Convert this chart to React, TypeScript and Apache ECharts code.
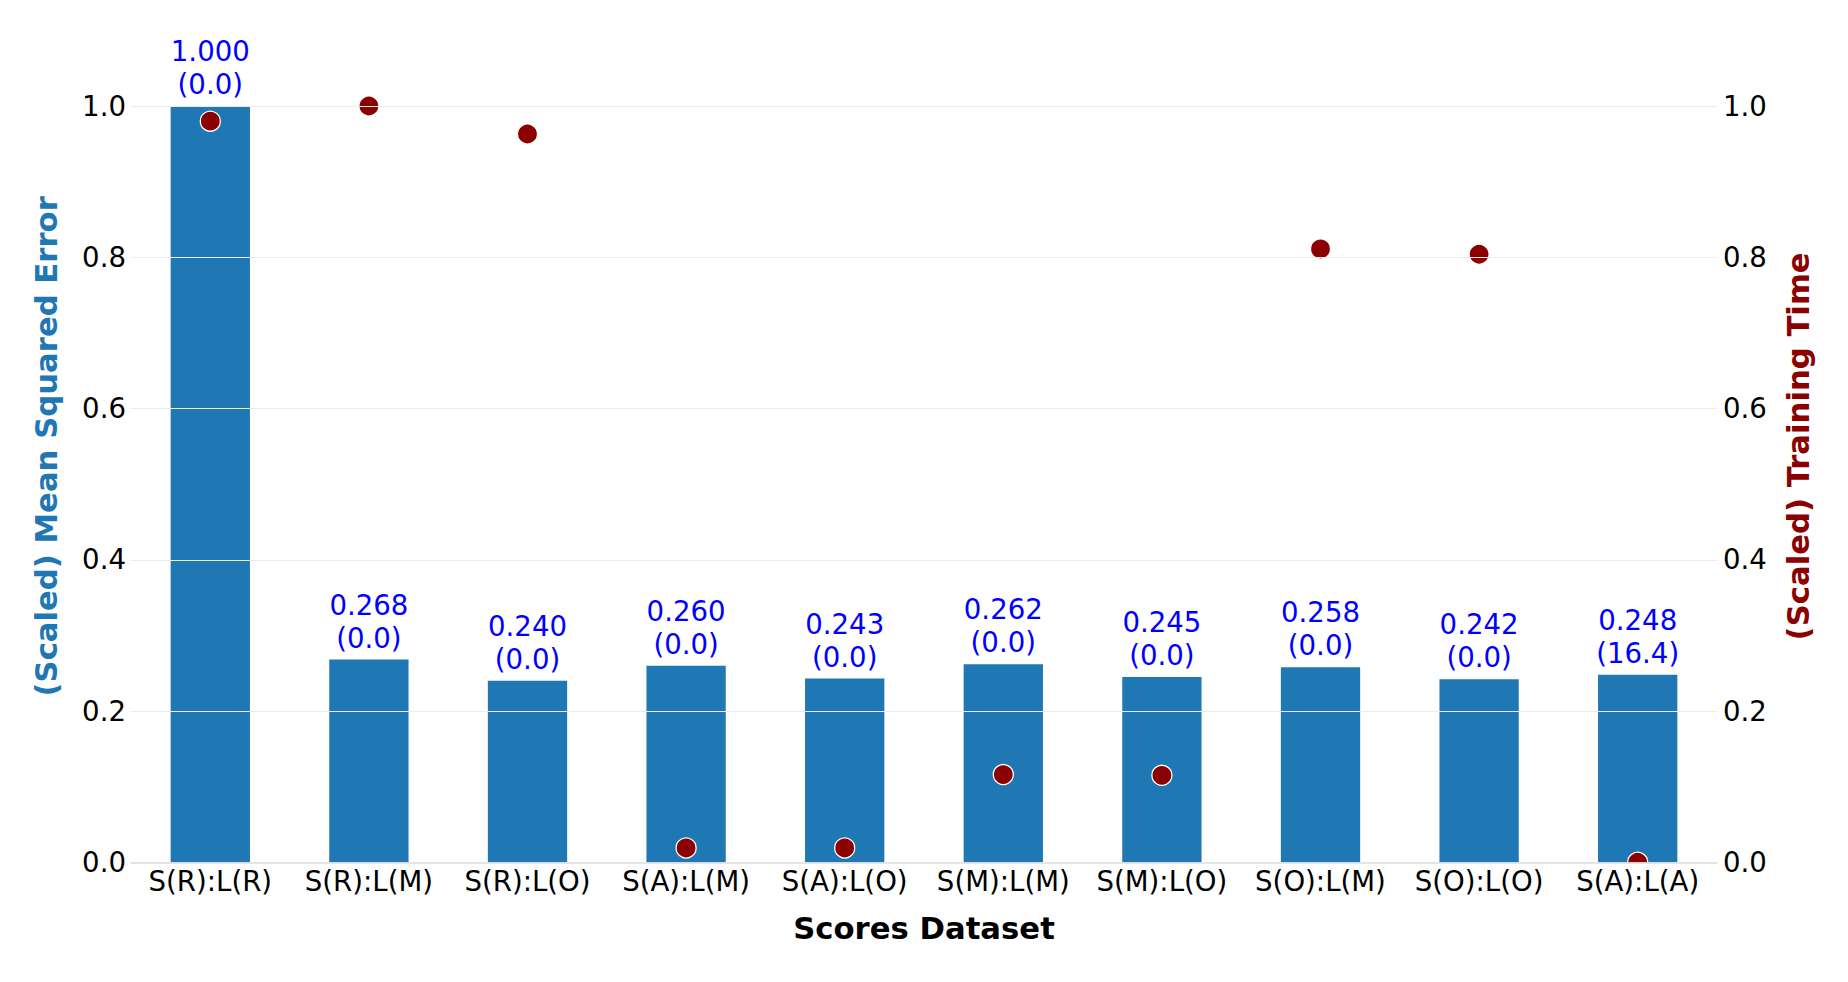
import React, { useEffect, useRef } from "react";
import * as echarts from "echarts";

const categories = [
  "S(R):L(R)",
  "S(R):L(M)",
  "S(R):L(O)",
  "S(A):L(M)",
  "S(A):L(O)",
  "S(M):L(M)",
  "S(M):L(O)",
  "S(O):L(M)",
  "S(O):L(O)",
  "S(A):L(A)",
];
const mseValues = [1.0, 0.268, 0.24, 0.26, 0.243, 0.262, 0.245, 0.258, 0.242, 0.248];
const mseStd = ["0.0", "0.0", "0.0", "0.0", "0.0", "0.0", "0.0", "0.0", "0.0", "16.4"];
const timeValues = [0.98, 1.0, 0.963, 0.019, 0.019, 0.116, 0.115, 0.811, 0.804, 0.0];

const FONT = "DejaVu Sans";
const TICK_SIZE = 27.6;
const TITLE_SIZE = 30.7;

export default function App() {
  const ref = useRef<HTMLDivElement>(null);

  useEffect(() => {
    if (!ref.current) return;
    const chart = echarts.init(ref.current, null, { renderer: "svg" });
    const yAxisCommon = {
      type: "value" as const,
      min: 0,
      max: 1.1,
      interval: 0.2,
      nameLocation: "middle" as const,
      nameRotate: 90,
      nameMoveOverlap: false,
      axisLine: { show: false },
      axisTick: { show: false },
      axisLabel: {
        fontFamily: FONT,
        fontSize: TICK_SIZE,
        color: "#000000",
        showMaxLabel: false,
        formatter: (v: number) => (v > 1.05 ? "" : v.toFixed(1)),
      },
    };
    chart.setOption({
      animation: false,
      backgroundColor: "#ffffff",
      textStyle: { fontFamily: FONT },
      grid: {
        left: 131,
        right: 131,
        top: 30.4,
        bottom: 119.7,
        containLabel: false,
        outerBoundsMode: "none",
      },
      xAxis: {
        type: "category",
        data: categories,
        boundaryGap: true,
        z: 10,
        name: "Scores Dataset",
        nameLocation: "middle",
        nameGap: 51,
        nameMoveOverlap: false,
        nameTextStyle: { fontFamily: FONT, fontSize: TITLE_SIZE, fontWeight: "bold", color: "#000000" },
        axisLine: { show: true, lineStyle: { color: "#dcdcdc", width: 1.5 } },
        axisTick: { show: false },
        splitLine: { show: false },
        axisLabel: {
          interval: 0,
          fontFamily: FONT,
          fontSize: TICK_SIZE,
          color: "#000000",
          margin: 5,
        },
      },
      yAxis: [
        {
          ...yAxisCommon,
          position: "left",
          name: "(Scaled) Mean Squared Error",
          nameGap: 69,
          nameTextStyle: { fontFamily: FONT, fontSize: TITLE_SIZE, fontWeight: "bold", color: "#1f77b4" },
          splitLine: { show: false },
          axisLabel: { ...yAxisCommon.axisLabel, margin: 5 },
        },
        {
          ...yAxisCommon,
          position: "right",
          z: 10,
          name: "(Scaled) Training Time",
          nameGap: 66,
          nameTextStyle: { fontFamily: FONT, fontSize: TITLE_SIZE, fontWeight: "bold", color: "#8b0000" },
          splitLine: {
            show: true,
            showMinLine: false,
            showMaxLine: false,
            lineStyle: { color: "#ebebeb", width: 1 },
          },
          axisLabel: { ...yAxisCommon.axisLabel, margin: 6 },
        },
      ],
      series: [
        {
          type: "bar",
          yAxisIndex: 0,
          data: mseValues,
          barWidth: "50%",
          itemStyle: { color: "#1f77b4" },
          label: {
            show: true,
            position: "top",
            distance: 5,
            fontFamily: FONT,
            fontSize: TICK_SIZE,
            lineHeight: 33,
            color: "#0000ff",
            formatter: (p: any) => `${Number(p.value).toFixed(3)}\n(${mseStd[p.dataIndex]})`,
          },
          z: 2,
        },
        {
          type: "custom",
          yAxisIndex: 1,
          clip: true,
          z: 3,
          data: timeValues.map((v, i) => [i, v]),
          encode: { x: 0, y: 1 },
          renderItem: (params: any, api: any) => {
            const p = api.coord([api.value(0), api.value(1)]);
            return {
              type: "circle",
              shape: { cx: p[0], cy: p[1], r: 10 },
              style: { fill: "#8b0000", stroke: "#ffffff", lineWidth: 1.3 },
            };
          },
        },
      ],
    });
    return () => chart.dispose();
  }, []);

  return (
    <div
      ref={ref}
      style={{ position: "fixed", left: 0, top: 0, width: 1848, height: 982 }}
    />
  );
}
